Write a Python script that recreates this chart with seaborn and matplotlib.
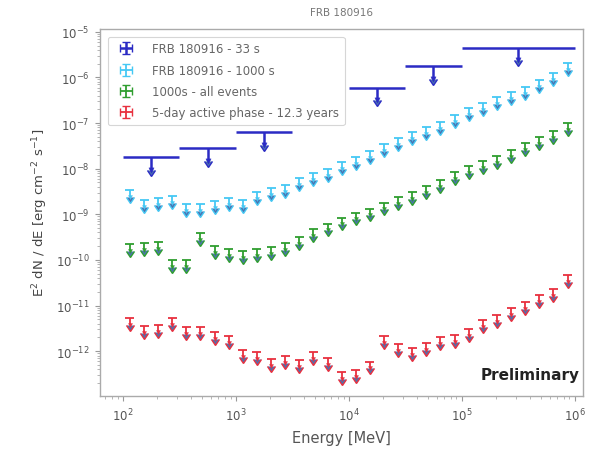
import numpy as np
import pandas as pd
import matplotlib
matplotlib.use("Agg")
import matplotlib.pyplot as plt
import matplotlib.ticker as mticker
import seaborn as sns

# ---------------- data ----------------
labels = ["FRB 180916 - 33 s", "FRB 180916 - 1000 s",
          "1000s - all events", "5-day active phase - 12.3 years"]
colors = ["#2b2bc4", "#45c8f4", "#2f9e2f", "#e8303f"]

# 33 s upper limits: energy bin edges [MeV] and UL values
blue_lo = [1e2, 3.16e2, 1e3, 1e4, 3.16e4, 1e5]
blue_hi = [3.16e2, 1e3, 3.16e3, 3.16e4, 1e5, 1e6]
blue_ul = [1.8e-8, 2.8e-8, 6.3e-8, 6.0e-7, 1.8e-6, 4.5e-6]

# 32 bins, 8 per decade, 100 MeV - 1 TeV
cyan_ul = [3.45e-9, 2.09e-9, 2.31e-9, 2.55e-9, 1.71e-9, 1.71e-9, 1.99e-9, 2.31e-9,
           2.09e-9, 3.12e-9, 3.82e-9, 4.44e-9, 6.3e-9, 8.1e-9, 9.9e-9, 1.41e-8,
           1.81e-8, 2.44e-8, 3.47e-8, 4.69e-8, 6.33e-8, 8.14e-8, 1.05e-7, 1.49e-7,
           2.11e-7, 2.71e-7, 3.67e-7, 4.71e-7, 6.06e-7, 8.6e-7, 1.22e-6, 2.02e-6]
green_ul = [2.19e-10, 2.30e-10, 2.42e-10, 9.8e-11, 9.8e-11, 3.80e-10, 1.98e-10, 1.70e-10,
            1.54e-10, 1.70e-10, 1.88e-10, 2.30e-10, 3.11e-10, 4.65e-10, 6.27e-10, 8.5e-10,
            1.09e-9, 1.33e-9, 1.80e-9, 2.43e-9, 3.12e-9, 4.22e-9, 5.70e-9, 8.5e-9,
            1.15e-8, 1.48e-8, 1.90e-8, 2.57e-8, 3.65e-8, 4.93e-8, 6.67e-8, 9.95e-8]
red_ul = [5.34e-12, 3.58e-12, 3.76e-12, 5.34e-12, 3.40e-12, 3.40e-12, 2.65e-12, 2.17e-12,
          1.07e-12, 9.7e-13, 6.8e-13, 7.9e-13, 6.5e-13, 9.7e-13, 7.2e-13, 3.56e-13,
          3.93e-13, 5.9e-13, 2.17e-12, 1.45e-12, 1.19e-12, 1.52e-12, 2.06e-12, 2.28e-12,
          3.08e-12, 4.83e-12, 6.2e-12, 8.8e-12, 1.19e-11, 1.69e-11, 2.29e-11, 4.62e-11]

edges = np.logspace(2, 6, 33)
centers = np.sqrt(edges[:-1] * edges[1:])

# ---------------- style ----------------
sns.set_theme(style="ticks")
plt.rcParams["font.family"] = ["DejaVu Sans"]

fig = plt.figure(figsize=(5.94, 4.52), dpi=100)
ax = fig.add_axes([0.168, 0.122, 0.813, 0.812])

def draw(x, xlo, xhi, y, color, label, drop, lw, ms):
    y = np.asarray(y)
    x = np.asarray(x)
    yerr = y * (1 - 10 ** (-drop))
    cont = ax.errorbar(x, y, xerr=[x - np.asarray(xlo), np.asarray(xhi) - x],
                       yerr=yerr, uplims=True, fmt="none", ecolor=color,
                       elinewidth=lw, capsize=0, label=label)
    df = pd.DataFrame({"E": x, "low": y - yerr})
    sns.scatterplot(data=df, x="E", y="low", marker="v", s=ms, color=color,
                    edgecolor=color, linewidth=0.3, ax=ax, legend=False, zorder=3)
    return cont

bx = np.sqrt(np.array(blue_lo) * np.array(blue_hi))
h1 = draw(bx, blue_lo, blue_hi, blue_ul, colors[0], labels[0], 0.28, 1.8, 14)
shrink = 10 ** (0.04)
h2 = draw(centers, centers / shrink, centers * shrink, cyan_ul, colors[1], labels[1], 0.15, 1.3, 8)
h3 = draw(centers, centers / shrink, centers * shrink, green_ul, colors[2], labels[2], 0.15, 1.3, 8)
h4 = draw(centers, centers / shrink, centers * shrink, red_ul, colors[3], labels[3], 0.15, 1.3, 8)

ax.set_xscale("log")
ax.set_yscale("log")
ax.set_xlim(62.5, 1.18e6)
ax.set_ylim(1.05e-13, 1.16e-5)

ax.yaxis.set_major_locator(mticker.LogLocator(base=10, numticks=20))
ax.xaxis.set_major_locator(mticker.LogLocator(base=10, numticks=20))
ax.xaxis.set_minor_locator(mticker.LogLocator(base=10, subs=np.arange(2, 10), numticks=20))
ax.yaxis.set_minor_locator(mticker.LogLocator(base=10, subs=np.arange(2, 10), numticks=20))
ax.yaxis.set_minor_formatter(mticker.NullFormatter())
ax.xaxis.set_minor_formatter(mticker.NullFormatter())

for s in ax.spines.values():
    s.set_color("#aaaaaa")
    s.set_linewidth(1.0)
ax.tick_params(which="major", direction="out", length=3.5, width=0.8, colors="#999999",
               labelcolor="#555555", labelsize=8.5, pad=4)
ax.tick_params(which="minor", direction="out", length=2, width=0.6, colors="#aaaaaa")

ax.set_xlabel("Energy [MeV]", fontsize=10.5, color="#555555", labelpad=5)
ax.set_ylabel(r"E$^2$ dN / dE [erg cm$^{-2}$ s$^{-1}$]", fontsize=9.5, color="#444444", labelpad=4)
ax.set_title("FRB 180916", fontsize=7.5, color="#777777", pad=10)

leg = ax.legend(handles=[h1, h2, h3, h4], loc="upper left", fontsize=8.5,
                frameon=True, borderpad=0.5, labelspacing=0.7, handlelength=2.0,
                handletextpad=1.2, bbox_to_anchor=(0.005, 0.995))
leg.get_frame().set_edgecolor("#cccccc")
leg.get_frame().set_linewidth(0.8)
for t in leg.get_texts():
    t.set_color("#666666")

ax.text(0.993, 0.057, "Preliminary", transform=ax.transAxes, ha="right", va="center",
        fontsize=11, fontweight="bold", color="#222222")

fig.savefig("out.png", dpi=100)
